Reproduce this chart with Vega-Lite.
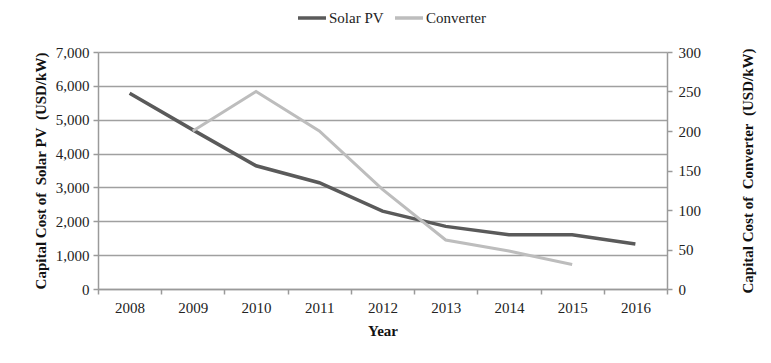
{
  "$schema": "https://vega.github.io/schema/vega-lite/v6.json",
  "autosize": "none",
  "width": 569,
  "height": 237,
  "padding": {"left": 98, "top": 52, "right": 104, "bottom": 74},
  "background": "white",
  "config": {
    "view": {"stroke": null},
    "font": "Liberation Serif",
    "axis": {
      "labelFont": "Liberation Serif",
      "titleFont": "Liberation Serif",
      "labelFontSize": 15,
      "titleFontSize": 15,
      "titleFontWeight": "bold",
      "labelColor": "#222222",
      "titleColor": "#111111",
      "domainColor": "#9a9a9a",
      "domainWidth": 1.5,
      "tickColor": "#9a9a9a",
      "tickWidth": 1.5,
      "tickSize": 5,
      "gridColor": "#a0a0a0",
      "gridWidth": 1.5
    },
    "legend": {
      "labelFont": "Liberation Serif",
      "labelFontSize": 15,
      "labelColor": "#222222"
    }
  },
  "data": {
    "values": [
      {"Year": "2008", "series": "Solar PV", "value": 5780},
      {"Year": "2009", "series": "Solar PV", "value": 4700},
      {"Year": "2010", "series": "Solar PV", "value": 3640},
      {"Year": "2011", "series": "Solar PV", "value": 3140},
      {"Year": "2012", "series": "Solar PV", "value": 2300},
      {"Year": "2013", "series": "Solar PV", "value": 1850},
      {"Year": "2014", "series": "Solar PV", "value": 1600},
      {"Year": "2015", "series": "Solar PV", "value": 1600},
      {"Year": "2016", "series": "Solar PV", "value": 1330},
      {"Year": "2009", "series": "Converter", "value": 200},
      {"Year": "2010", "series": "Converter", "value": 250},
      {"Year": "2011", "series": "Converter", "value": 200},
      {"Year": "2012", "series": "Converter", "value": 126},
      {"Year": "2013", "series": "Converter", "value": 62},
      {"Year": "2014", "series": "Converter", "value": 48},
      {"Year": "2015", "series": "Converter", "value": 31}
    ]
  },
  "encoding": {
    "x": {
      "field": "Year",
      "type": "ordinal",
      "bandPosition": 0.5,
      "scale": {"type": "band", "paddingInner": 0, "paddingOuter": 0, "domain": ["2008","2009","2010","2011","2012","2013","2014","2015","2016"]},
      "axis": {"title": "Year", "labelAngle": 0, "tickBand": "extent", "labelPadding": 6, "titlePadding": 8, "grid": false}
    },
    "color": {
      "field": "series",
      "type": "nominal",
      "scale": {"domain": ["Solar PV", "Converter"], "range": ["#5a5a5a", "#bdbdbd"]},
      "legend": {
        "title": null,
        "orient": "none",
        "direction": "horizontal",
        "legendX": 198,
        "legendY": -50,
        "symbolType": "stroke",
        "symbolSize": 784,
        "symbolStrokeWidth": 3.5,
        "labelOffset": 1,
        "columnPadding": 4
      }
    }
  },
  "layer": [
    {
      "transform": [{"filter": "datum.series == 'Solar PV'"}],
      "mark": {"type": "line", "strokeWidth": 3.5},
      "encoding": {
        "y": {
          "field": "value",
          "type": "quantitative",
          "scale": {"domain": [0, 7000], "nice": false},
          "axis": {
            "title": "Capital Cost of\u00a0 Solar PV\u00a0 (USD/kW)",
            "values": [0, 1000, 2000, 3000, 4000, 5000, 6000, 7000],
            "format": ",d",
            "grid": true,
            "labelPadding": 4,
            "titlePadding": 7
          }
        }
      }
    },
    {
      "transform": [{"filter": "datum.series == 'Converter'"}],
      "mark": {"type": "line", "strokeWidth": 3},
      "encoding": {
        "y": {
          "field": "value",
          "type": "quantitative",
          "scale": {"domain": [0, 300], "nice": false},
          "axis": {
            "title": "Capital Cost of\u00a0 Converter\u00a0 (USD/kW)",
            "orient": "right",
            "titleAngle": 270,
            "values": [0, 50, 100, 150, 200, 250, 300],
            "grid": false,
            "labelPadding": 6,
            "titlePadding": 55
          }
        }
      }
    }
  ],
  "resolve": {"scale": {"y": "independent"}}
}
